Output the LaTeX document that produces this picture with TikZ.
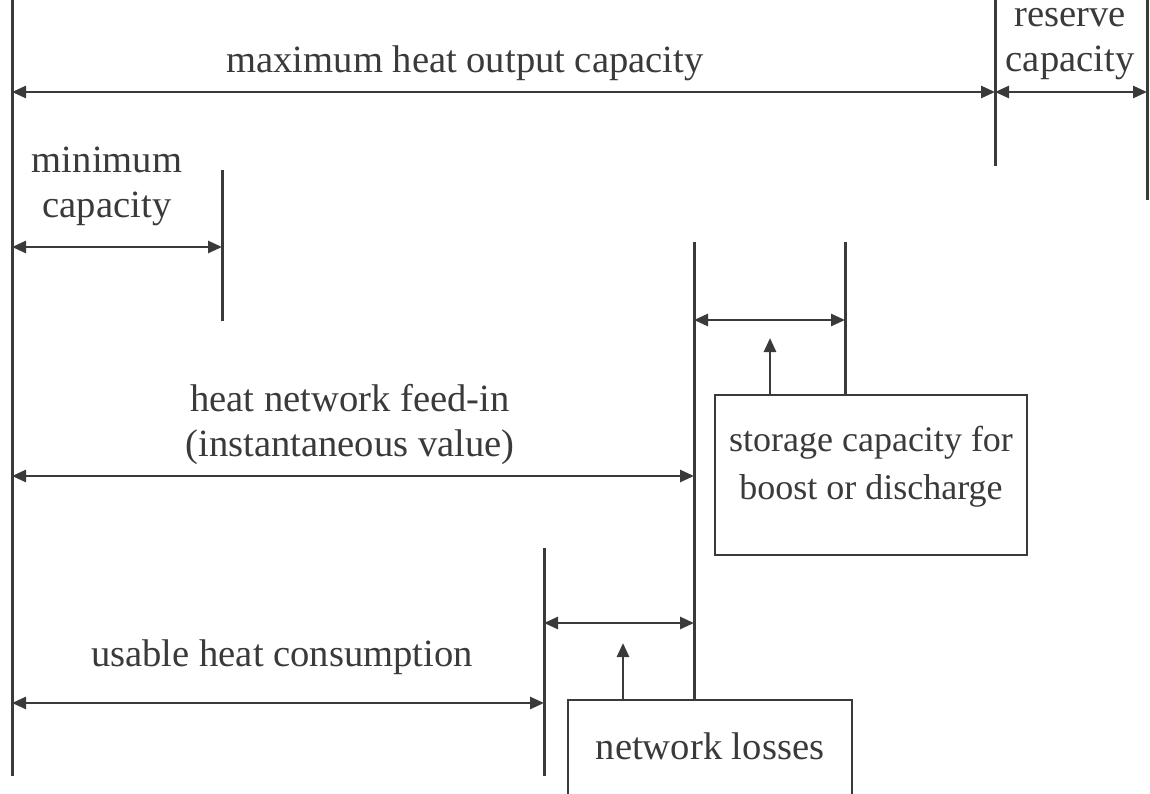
\documentclass[tikz,border=0pt]{standalone}
\usepackage{fontspec}
\setmainfont{Liberation Serif}
\usetikzlibrary{arrows.meta}
\definecolor{ink}{HTML}{3A3A3A}
\begin{document}
\begin{tikzpicture}[x=0.5pt,y=-0.5pt,
  bar/.style={draw=ink,line width=1.5pt},
  dim/.style={draw=ink,line width=1.35pt,{Triangle[length=7pt,width=6pt]}-{Triangle[length=7pt,width=6pt]}},
  up/.style={draw=ink,line width=1.35pt,-{Triangle[length=7pt,width=6pt]}},
  lbl/.style={text=ink,align=center,inner sep=0pt,font=\fontsize{19.3}{22.5}\selectfont},
  boxlbl/.style={lbl,font=\fontsize{18}{24}\selectfont},
  box/.style={draw=ink,line width=1.35pt}]
\useasboundingbox (0,0) rectangle (1150,793);
\clip (0,0) rectangle (1150,793);
% vertical bars
\coordinate (l0t) at (12,0);   \coordinate (l0b) at (12,776);
\coordinate (l1t) at (995,0);  \coordinate (l1b) at (995,166);
\coordinate (l2t) at (1147,0); \coordinate (l2b) at (1147,200);
\coordinate (l3t) at (222,170); \coordinate (l3b) at (222,321);
\coordinate (l4t) at (694,242); \coordinate (l4b) at (694,700);
\coordinate (l5t) at (845,242); \coordinate (l5b) at (845,395);
\coordinate (l6t) at (544,548); \coordinate (l6b) at (544,776);
\foreach \n in {0,...,6} {\draw[bar] (l\n t) -- (l\n b);}
% dimension arrow end points
\coordinate (a1l) at (12,92);  \coordinate (a1r) at (995,92);
\coordinate (a2l) at (995,92); \coordinate (a2r) at (1147,92);
\coordinate (a3l) at (12,247); \coordinate (a3r) at (222,247);
\coordinate (a4l) at (694,320); \coordinate (a4r) at (845,320);
\coordinate (a5l) at (12,476); \coordinate (a5r) at (694,476);
\coordinate (a6l) at (544,623); \coordinate (a6r) at (694,623);
\coordinate (a7l) at (12,703); \coordinate (a7r) at (544,703);
\foreach \n in {1,...,7} {\draw[dim] (a\n l) -- (a\n r);}
% labels
\node[lbl] (tmax) at (465,63) {maximum heat output capacity};
\node[lbl] (tres) at (1070,44) {reserve\\capacity};
\node[lbl] (tmin) at (107,186) {minimum\\capacity};
\node[lbl] (tfeed) at (350,425) {heat network feed-in\\(instantaneous value)};
\node[lbl] (tuse) at (282,657) {usable heat consumption};
% boxes
\draw[box] (715,395) rectangle (1027,555);
\node[boxlbl] (tsto) at (871,467) {storage capacity for\\boost or discharge};
\draw[box] (568,820) -- (568,700) -- (852,700) -- (852,820);
\node[lbl] (tnet) at (710,746) {network losses};
% small pointers
\coordinate (p1b) at (770,395); \coordinate (p1t) at (770,338);
\coordinate (p2b) at (623,700); \coordinate (p2t) at (623,643);
\draw[up] (p1b) -- (p1t);
\draw[up] (p2b) -- (p2t);
\end{tikzpicture}
\end{document}
